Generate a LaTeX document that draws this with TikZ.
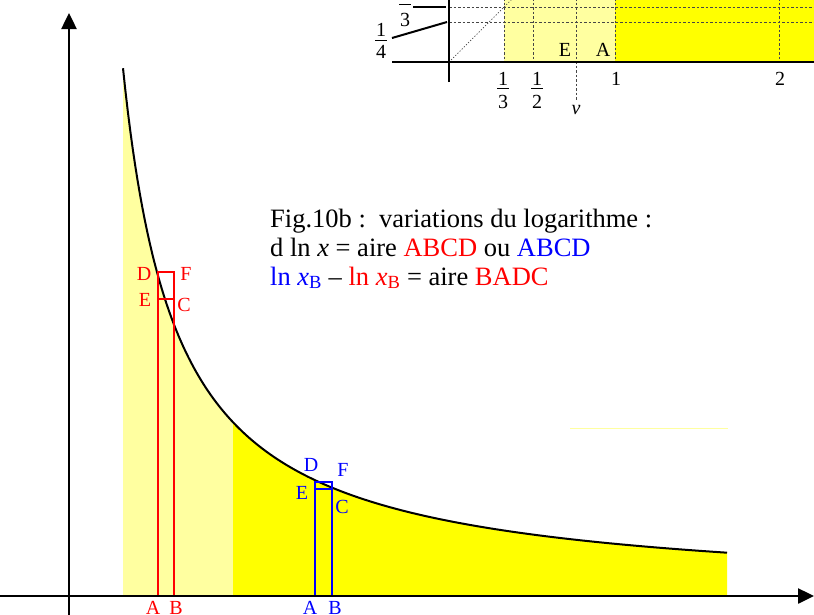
\documentclass[tikz,border=0pt]{standalone}
\usepackage{fontspec}
\setmainfont{Liberation Serif}
\usetikzlibrary{arrows.meta}
\definecolor{lightyel}{RGB}{255,255,160}
\definecolor{yel}{RGB}{255,255,0}
\definecolor{redc}{RGB}{255,0,0}
\definecolor{bluec}{RGB}{0,0,255}
\definecolor{dashgray}{RGB}{70,70,70}
\begin{document}
\begin{tikzpicture}[x=1pt,y=-1pt,
  axisline/.style={line width=2.5pt},
  curveline/.style={line width=2pt},
  lab/.style={font=\fontsize{20}{22}\selectfont, inner sep=0pt},
  big/.style={font=\fontsize{26.5}{29}\selectfont, inner sep=0pt, anchor=base west},
  griddash/.style={dashgray, line width=0.9pt, dash pattern=on 2.5pt off 2pt},
  diagdot/.style={dashgray, line width=0.7pt, dash pattern=on 1.2pt off 1.8pt},
  redbox/.style={redc, line width=1.8pt},
  bluebox/.style={bluec, line width=1.8pt},
  thinbar/.style={line width=1pt},
  pointer/.style={line width=2pt}]
\useasboundingbox (0,0) rectangle (814,614);
\clip (0,0) rectangle (814,614);

% ---------- main figure: areas under y = k/x ----------
\fill[lightyel] (123,596) -- plot[domain=123:233, samples=80] (\x, {596 - 100*(285/(\x-69))}) -- (233,596) -- cycle;
\fill[yel] (233,596) -- plot[domain=233:727, samples=160] (\x, {596 - 100*(285/(\x-69))}) -- (727,596) -- cycle;
\draw[curveline] plot[domain=123:727, samples=250] (\x, {596 - 100*(285/(\x-69))});

% faint line
\draw[lightyel, line width=1pt] (570,428) -- (728,428);

% red rectangle
\coordinate (rA) at (158,596);
\coordinate (rB) at (174,596);
\coordinate (rD) at (158,272);
\coordinate (rF) at (174,272);
\coordinate (rE) at (158,299);
\coordinate (rC) at (174,299);
\draw[redbox] (rA) -- (rD) -- (rF) -- (rB);
\draw[redbox] (rE) -- (rC);
\node[lab, text=redc] (lrD) at (144,274) {D};
\node[lab, text=redc] (lrF) at (186,274) {F};
\node[lab, text=redc] (lrE) at (145,300) {E};
\node[lab, text=redc] (lrC) at (184,305) {C};
\node[lab, text=redc] (lrA) at (153,608) {A};
\node[lab, text=redc] (lrB) at (176,608) {B};

% blue rectangle
\coordinate (bA) at (315,596);
\coordinate (bB) at (332,596);
\coordinate (bD) at (315,482);
\coordinate (bF) at (332,482);
\coordinate (bE) at (315,489);
\coordinate (bC) at (332,489);
\draw[bluebox] (bA) -- (bD) -- (bF) -- (bB);
\draw[bluebox] (bE) -- (bC);
\node[lab, text=bluec] (lbD) at (311,465) {D};
\node[lab, text=bluec] (lbF) at (343,470) {F};
\node[lab, text=bluec] (lbE) at (302,493) {E};
\node[lab, text=bluec] (lbC) at (342,507) {C};
\node[lab, text=bluec] (lbA) at (310,608) {A};
\node[lab, text=bluec] (lbB) at (335,608) {B};

% axes
\coordinate (xs) at (0,596);
\coordinate (xe) at (814,596);
\coordinate (ys) at (69,620);
\coordinate (ye) at (69,13);
\draw[axisline, -{Triangle[length=16pt,width=15pt]}] (xs) -- (xe);
\draw[axisline, -{Triangle[length=16pt,width=15pt]}] (ys) -- (ye);

% caption
\node[big] (t1) at (270,227) {Fig.10b :\ \ variations du logarithme :};
\node[big] (t2) at (270,256) {d ln \textit{x} = aire \textcolor{redc}{ABCD} ou \textcolor{bluec}{ABCD}};
\node[big] (t3) at (270,285) {\textcolor{bluec}{ln \textit{x}\textsubscript{B}} – \textcolor{redc}{ln \textit{x}\textsubscript{B}} = aire \textcolor{redc}{BADC}};

% ---------- inset (top right, cropped) ----------
\fill[lightyel] (504,-2) rectangle (615,62);
\fill[yel] (615,-2) rectangle (816,62);
\foreach \yy in {7,22} \draw[griddash] (449,\yy) -- (816,\yy);
\foreach \xx in {504,533,615,779} \draw[griddash] (\xx,-2) -- (\xx,62);
\draw[griddash] (576,-2) -- (576,100);
\draw[diagdot] (449,62) -- (512,-1);
\coordinate (ix0) at (392,62);
\coordinate (ix1) at (816,62);
\coordinate (iy0) at (449,82);
\coordinate (iy1) at (449,-2);
\draw[line width=2pt] (ix0) -- (ix1);
\draw[line width=2pt] (iy0) -- (iy1);
\draw[pointer] (392,38) -- (447,22);
\draw[pointer] (413,7) -- (446,7);

% left fractions
\node[lab] (f4n) at (381,30) {1};
\draw[thinbar] (375,40) -- (387,40);
\node[lab] (f4d) at (381,52) {4};
\node[lab] (f3n) at (405,-6) {1};
\draw[thinbar] (399,4) -- (411,4);
\node[lab] (f3d) at (405,20) {3};

% bottom fractions
\node[lab] (g3n) at (503,79) {1};
\draw[thinbar] (497,88) -- (509,88);
\node[lab] (g3d) at (503,102) {3};
\node[lab] (g2n) at (537,79) {1};
\draw[thinbar] (531,88) -- (543,88);
\node[lab] (g2d) at (537,102) {2};
\node[lab] (g1) at (616,79) {1};
\node[lab] (g22) at (780,79) {2};
\node[lab] (gv) at (576,110) {\textit{v}};
\node[lab] (iE) at (565,50) {E};
\node[lab] (iA) at (603,50) {A};
\end{tikzpicture}
\end{document}
